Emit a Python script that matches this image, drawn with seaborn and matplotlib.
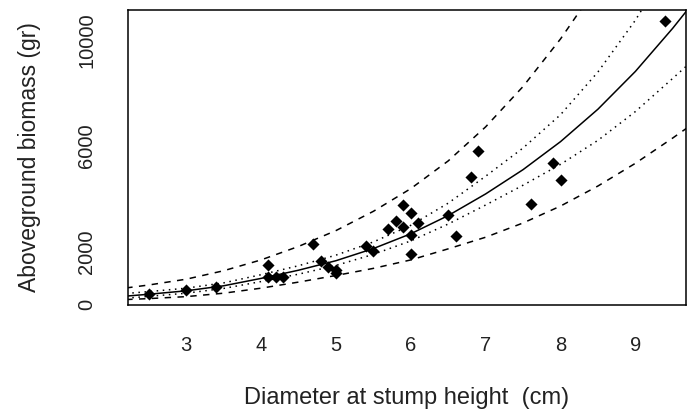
import matplotlib
matplotlib.use("Agg")
import matplotlib.pyplot as plt
import numpy as np
import pandas as pd
import seaborn as sns

# Stump diameter (cm) and aboveground biomass (g) of the sampled trees
diameter = [2.5, 3.0, 3.4, 4.1, 4.1, 4.2, 4.3, 4.7, 4.8, 4.9, 5.0, 5.0,
            5.4, 5.5, 5.7, 5.8, 5.9, 5.9, 6.0, 6.0, 6.0, 6.1, 6.5, 6.6,
            6.8, 6.9, 7.6, 7.9, 8.0, 9.4]
biomass = [387, 539, 650, 1488, 1017, 1017, 1017, 2270, 1640, 1400, 1300, 1170,
           2200, 2015, 2845, 3169, 3776, 2915, 3446, 2640, 1905, 3066, 3385, 2588,
           4812, 5825, 3802, 5359, 4725, 10733]

# Fitted allometric curve with confidence (dotted) and prediction (dashed) bands
grid_d = [2.2, 2.5, 3.0, 3.5, 4.0, 4.5, 5.0, 5.5, 6.0, 6.5, 7.0, 7.5,
          8.0, 8.5, 9.0, 9.5, 9.7]
fit = [310, 380, 510, 700, 980, 1290, 1650, 2110, 2670, 3360, 4180, 5100,
       6160, 7390, 8820, 10460, 11170]
conf_upper = [410, 480, 610, 810, 1120, 1460, 1860, 2360, 2990, 3830, 4850, 5920,
              7180, 8800, 10760, 13075, 14070]
conf_lower = [230, 300, 420, 600, 860, 1140, 1470, 1890, 2400, 3040, 3760, 4510,
              5300, 6210, 7300, 8560, 9070]
pred_upper = [620, 730, 950, 1270, 1680, 2190, 2790, 3520, 4380, 5430, 6720, 8250,
              10050, 12100, 14500, 17300, 18500]
pred_lower = [180, 215, 290, 420, 610, 840, 1090, 1360, 1680, 2100, 2540, 3080,
              3720, 4480, 5340, 6300, 6700]

x_ticks = [3, 4, 5, 6, 7, 8, 9]
y_ticks = [0, 2000, 4000, 6000, 8000, 10000]
y_tick_labels = ["0", "2000", "", "6000", "", "10000"]

sns.set_theme(style="white")
plt.rcParams["font.family"] = ["Liberation Sans", "DejaVu Sans"]

W, H = 693, 412
fig = plt.figure(figsize=(W / 100, H / 100), dpi=100)
fig.patch.set_facecolor("white")
ax = fig.add_axes([128 / W, 1 - 305 / H, (686 - 128) / W, (305 - 10) / H])
ax.set_facecolor("white")

bands = pd.DataFrame({
    "d": grid_d,
    "fit": fit,
    "cu": conf_upper,
    "cl": conf_lower,
    "pu": pred_upper,
    "pl": pred_lower,
})

lw = 1.1
for col in ["pu", "pl"]:
    sns.lineplot(data=bands, x="d", y=col, color="black", lw=lw,
                 linestyle=(0, (4.2, 4.2)), ax=ax, estimator=None)
for col in ["cu", "cl"]:
    sns.lineplot(data=bands, x="d", y=col, color="black", lw=lw,
                 linestyle=(0, (1.0, 3.0)), ax=ax, estimator=None)
sns.lineplot(data=bands, x="d", y="fit", color="black", lw=lw, ax=ax,
             estimator=None)

sns.scatterplot(x=diameter, y=biomass, marker="D", s=38, color="black",
                linewidth=0, ax=ax, zorder=5)

# Axis ranges padded by 4% of the data span
dx = max(diameter) - min(diameter)
dy = max(biomass) - min(biomass)
ax.set_xlim(min(diameter) - 0.04 * dx, max(diameter) + 0.04 * dx)
ax.set_ylim(min(biomass) - 0.04 * dy, max(biomass) + 0.04 * dy)

ax.set_xticks(x_ticks)
ax.set_xticklabels([str(t) for t in x_ticks])
ax.set_yticks(y_ticks)
ax.set_yticklabels(y_tick_labels, rotation=90, va="center")

ax.tick_params(axis="x", direction="out", length=9, width=1.1, pad=13,
               labelsize=14.5, colors="black", labelcolor="#222222")
ax.tick_params(axis="y", direction="out", length=10.8, width=1.1, pad=12,
               labelsize=14.5, colors="black", labelcolor="#222222")

for s in ax.spines.values():
    s.set_visible(True)
    s.set_color("black")
    s.set_linewidth(1.1)

ax.set_xlabel("Diameter at stump height  (cm)", fontsize=17, color="#222222",
              va="baseline")
ax.xaxis.set_label_coords(0.5, -0.3356)
ax.set_ylabel("Aboveground biomass (gr)", fontsize=16.5, color="#222222",
              va="baseline")
ax.yaxis.set_label_coords(-0.1649, 0.5)

fig.savefig("out.png", dpi=100, facecolor="white")
